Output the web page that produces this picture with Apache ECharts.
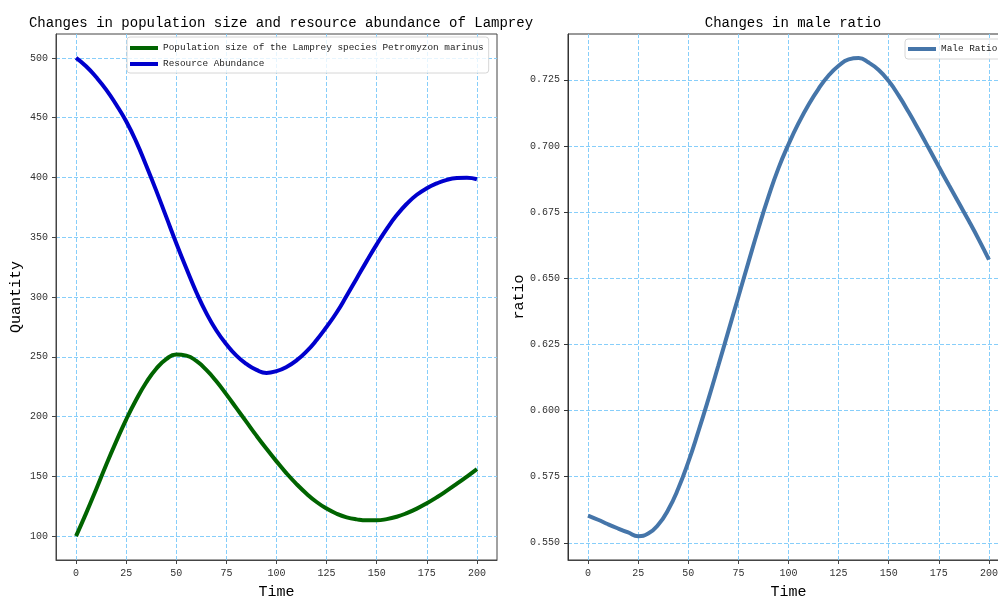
<!DOCTYPE html>
<html>
<head>
<meta charset="utf-8">
<script src="https://cdn.jsdelivr.net/npm/echarts@6/dist/echarts.min.js"></script>
<style>
html, body { margin: 0; padding: 0; background: #fff; }
#main { width: 998px; height: 597px; }
</style>
</head>
<body>
<div id="main"></div>
<script>
// time points (x)
var timeSteps = [0, 5, 10, 15, 20, 25, 30, 35, 40, 45, 50, 55, 60, 65, 70, 75, 80, 85, 90, 95, 100,
	105, 110, 115, 120, 125, 130, 135, 140, 145, 150, 155, 160, 165, 170, 175, 180, 185, 190, 195, 200];

// Population size of the Lamprey species Petromyzon marinus
var populationSize = [100, 119, 139, 159.5, 179, 197.5, 214, 228.5, 240, 248, 252, 251, 246.5, 239, 229.5, 218.5, 207, 195.5, 184, 173, 162.5,
	152.5, 143.5, 135.5, 128.5, 123, 118.7, 115.7, 114, 113.2, 113.2, 114.2, 116.2, 119.2, 123, 127.5, 132.5, 138, 143.8, 149.8, 156];

// Resource Abundance
var resourceAbundance = [500, 493, 484, 473.5, 461, 447, 430, 410, 389, 367, 345, 324, 304, 286.5, 272, 260.5, 251, 244, 239, 236.5, 238,
	241.5, 247, 254.5, 264, 275, 287, 301, 315.5, 330, 344, 357, 368.5, 378, 385.5, 391, 395, 398, 399.5, 399.8, 398.5];

// Male Ratio
var maleRatio = [0.5603, 0.5587, 0.5570, 0.5554, 0.5539, 0.5525, 0.5535, 0.5568, 0.5625, 0.5705, 0.5805, 0.5920, 0.6042, 0.6170, 0.6300, 0.6430, 0.6560, 0.6688, 0.6808, 0.6916, 0.7006,
	0.7086, 0.7156, 0.7216, 0.7266, 0.7303, 0.7327, 0.7332, 0.7315, 0.7287, 0.7245, 0.7190, 0.7127, 0.7060, 0.6991, 0.6921, 0.6852, 0.6784, 0.6716, 0.6645, 0.6570];

var timeTicks = [0, 25, 50, 75, 100, 125, 150, 175, 200];
var quantityTicks = [100, 150, 200, 250, 300, 350, 400, 450, 500];
var ratioTicks = [0.550, 0.575, 0.600, 0.625, 0.650, 0.675, 0.700, 0.725];

var FONT = 'Liberation Mono';
var GRID_LINE = { show: true, lineStyle: { color: '#87cefa', width: 1, type: [4, 2] } };

function pairs(ys) {
	return timeSteps.map(function(t, i) {
		return [t, ys[i]];
	});
}

function xAxisOf(gridIndex) {
	return {
		type: 'value',
		gridIndex: gridIndex,
		min: -10,
		max: 210,
		name: 'Time',
		nameLocation: 'middle',
		nameGap: 25,
		nameTextStyle: { fontFamily: FONT, fontSize: 15, color: '#000' },
		axisLine: { show: true, onZero: false, lineStyle: { color: '#444', width: 1 } },
		axisTick: { show: true, inside: false, length: 4, customValues: timeTicks, lineStyle: { color: '#444' } },
		axisLabel: { customValues: timeTicks, margin: 8, fontFamily: FONT, fontSize: 10, color: '#333' },
		splitLine: GRID_LINE
	};
}

function legendOf(names, left, top, padding) {
	return {
		data: names,
		orient: 'vertical',
		left: left,
		top: top,
		padding: padding,
		itemGap: 4,
		itemWidth: 28,
		itemHeight: 4,
		icon: 'rect',
		borderColor: '#d6d6d6',
		borderWidth: 1,
		borderRadius: 3,
		backgroundColor: 'rgba(255,255,255,0.8)',
		textStyle: { fontFamily: FONT, fontSize: 9.4, lineHeight: 12, color: '#222' }
	};
}

function lineSeries(name, axisIndex, values, color) {
	return {
		name: name,
		type: 'line',
		xAxisIndex: axisIndex,
		yAxisIndex: axisIndex,
		data: pairs(values),
		smooth: 0.5,
		showSymbol: false,
		symbol: 'none',
		color: color,
		lineStyle: { width: 4, color: color }
	};
}

var option = {
	animation: false,
	backgroundColor: '#fff',
	title: [{
		text: 'Changes in population size and resource abundance of Lamprey',
		left: 276,
		textAlign: 'center',
		top: 11,
		textStyle: { fontFamily: FONT, fontSize: 14, fontWeight: 'normal', color: '#000' }
	}, {
		text: 'Changes in male ratio',
		left: 788,
		textAlign: 'center',
		top: 11,
		textStyle: { fontFamily: FONT, fontSize: 14, fontWeight: 'normal', color: '#000' }
	}],
	legend: [
		legendOf(['Population size of the Lamprey species Petromyzon marinus', 'Resource Abundance'], 127, 37, [5, 5, 3, 3]),
		legendOf(['Male Ratio'], 905, 39, [4, 6, 4, 3])
	],
	grid: [{
		left: 56, top: 34, width: 441, height: 526,
		outerBoundsMode: 'none',
		show: true, borderColor: '#444', borderWidth: 1, backgroundColor: 'transparent'
	}, {
		left: 568, top: 34, width: 441, height: 526,
		outerBoundsMode: 'none',
		show: true, borderColor: '#333', borderWidth: 1, backgroundColor: 'transparent'
	}],
	xAxis: [xAxisOf(0), xAxisOf(1)],
	yAxis: [{
		type: 'value',
		gridIndex: 0,
		min: 80,
		max: 520,
		name: 'Quantity',
		nameLocation: 'middle',
		nameGap: 32,
		nameTextStyle: { fontFamily: FONT, fontSize: 15, color: '#000' },
		axisLine: { show: true, onZero: false, lineStyle: { color: '#444' } },
		axisTick: { show: true, length: 4, customValues: quantityTicks, lineStyle: { color: '#444' } },
		axisLabel: { customValues: quantityTicks, margin: 8, fontFamily: FONT, fontSize: 10, color: '#333' },
		splitLine: GRID_LINE
	}, {
		type: 'value',
		gridIndex: 1,
		min: 0.5435,
		max: 0.7423,
		name: 'ratio',
		nameLocation: 'middle',
		nameGap: 40,
		nameTextStyle: { fontFamily: FONT, fontSize: 15, color: '#000' },
		axisLine: { show: true, onZero: false, lineStyle: { color: '#333' } },
		axisTick: { show: true, length: 4, customValues: ratioTicks, lineStyle: { color: '#333' } },
		axisLabel: {
			customValues: ratioTicks, margin: 8, fontFamily: FONT, fontSize: 10, color: '#333',
			formatter: function(v) { return v.toFixed(3); }
		},
		splitLine: GRID_LINE
	}],
	series: [
		lineSeries('Population size of the Lamprey species Petromyzon marinus', 0, populationSize, '#006400'),
		lineSeries('Resource Abundance', 0, resourceAbundance, '#0000cd'),
		lineSeries('Male Ratio', 1, maleRatio, '#4575a9')
	]
};

var chart = echarts.init(document.getElementById('main'), null, { renderer: 'canvas' });
chart.setOption(option);
</script>
</body>
</html>
